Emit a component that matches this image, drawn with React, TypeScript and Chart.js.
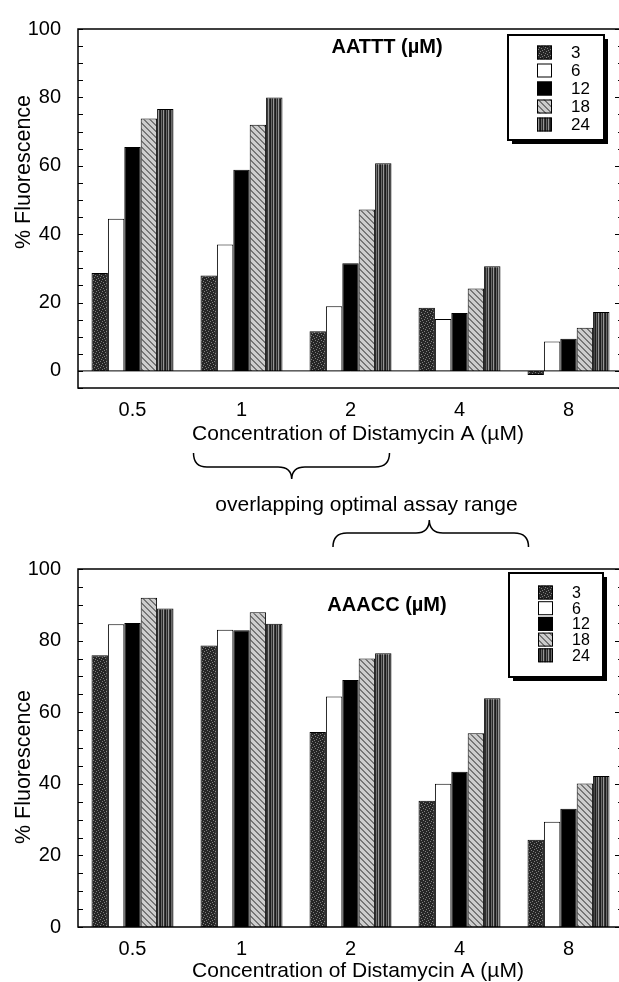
import React, { useEffect, useRef } from 'react';
import { Chart, registerables } from 'chart.js';

Chart.register(...registerables);

// ---------------- data ----------------
const categories = ['0.5', '1', '2', '4', '8'];
const seriesLabels = ['3', '6', '12', '18', '24'];

const aatttS3 = [28.6, 27.9, 11.6, 18.5, -1.2];
const aatttS6 = [44.5, 37.0, 18.9, 15.2, 8.6];
const aatttS12 = [65.5, 58.8, 31.5, 16.9, 9.4];
const aatttS18 = [73.8, 72.0, 47.2, 24.1, 12.6];
const aatttS24 = [76.6, 80.0, 60.7, 30.6, 17.2];

const aaaccS3 = [75.9, 78.6, 54.5, 35.3, 24.4];
const aaaccS6 = [84.6, 83.0, 64.4, 40.0, 29.4];
const aaaccS12 = [84.9, 82.9, 69.0, 43.4, 33.0];
const aaaccS18 = [92.0, 87.9, 75.0, 54.1, 40.1];
const aaaccS24 = [89.0, 84.7, 76.5, 63.9, 42.2];

const yMajorTicks = [0, 20, 40, 60, 80, 100];

const FONT = '"Liberation Sans", Arial, Helvetica, sans-serif';

// ---------------- fill patterns ----------------
function makePattern(kind: string): CanvasPattern | string {
  const c = document.createElement('canvas');
  const g = c.getContext('2d') as CanvasRenderingContext2D;
  if (kind === 'speckle') {
    c.width = 6; c.height = 6;
    g.fillStyle = '#262626'; g.fillRect(0, 0, 6, 6);
    g.fillStyle = '#7e7e7e';
    [[1, 0], [4, 1], [0, 3], [3, 4], [5, 5], [2, 2]].forEach(([x, y]) => g.fillRect(x, y, 1, 1));
  } else if (kind === 'hatch') {
    c.width = 6; c.height = 6;
    g.fillStyle = '#cdcdcd'; g.fillRect(0, 0, 6, 6);
    g.fillStyle = '#767676';
    for (let i = 0; i < 6; i++) { g.fillRect(i, i, 1, 1); g.fillRect((i + 1) % 6, i, 1, 1); }
  } else if (kind === 'stripe') {
    c.width = 5; c.height = 1;
    const cols = ['#1c1c1c', '#6a6a6a', '#2a2a2a', '#969696', '#363636'];
    cols.forEach((col, i) => { g.fillStyle = col; g.fillRect(i, 0, 1, 1); });
  }
  return g.createPattern(c, 'repeat') as CanvasPattern;
}

// ---------------- decoration plugin ----------------
const decorPlugin = {
  id: 'decor',
  afterDraw(chart: any, _args: any, opts: any) {
    const { ctx, chartArea: a } = chart;
    const y = chart.scales.y;
    ctx.save();
    ctx.strokeStyle = '#000';
    ctx.fillStyle = '#000';

    // zero line
    if (opts.zeroLine) {
      const z = y.getPixelForValue(0);
      ctx.lineWidth = 1;
      ctx.beginPath(); ctx.moveTo(a.left, z); ctx.lineTo(a.right, z); ctx.stroke();
    }

    // inward tick marks every 5 units
    ctx.lineWidth = 1;
    for (let v = Math.ceil(y.min / 5) * 5; v <= y.max; v += 5) {
      const py = Math.round(y.getPixelForValue(v)) + 0.5;
      const major = v % 20 === 0;
      ctx.beginPath();
      ctx.moveTo(a.left, py); ctx.lineTo(a.left + 5, py);
      ctx.moveTo(a.right - (major ? 8 : 5), py); ctx.lineTo(a.right, py);
      ctx.stroke();
    }

    // frame
    ctx.lineWidth = 1.5;
    ctx.strokeRect(a.left, a.top, a.right - a.left, a.bottom - a.top);

    // y title
    ctx.save();
    ctx.font = `21.5px ${FONT}`;
    ctx.textAlign = 'center';
    ctx.textBaseline = 'middle';
    ctx.translate(opts.yTitle.x, opts.yTitle.y);
    ctx.rotate(-Math.PI / 2);
    ctx.fillText(opts.yTitle.text, 0, 0);
    ctx.restore();

    // x title
    ctx.font = `21px ${FONT}`;
    ctx.textAlign = 'center';
    ctx.textBaseline = 'alphabetic';
    ctx.fillText(opts.xTitle.text, opts.xTitle.x, opts.xTitle.y);

    // annotation
    ctx.font = `bold 20px ${FONT}`;
    ctx.fillText(opts.note.text, opts.note.x, opts.note.y);

    // legend
    const L = opts.legend;
    ctx.fillStyle = '#000';
    ctx.fillRect(L.x + 4, L.y + 4, L.w, L.h);
    ctx.fillStyle = '#fff';
    ctx.fillRect(L.x, L.y, L.w, L.h);
    ctx.lineWidth = 2;
    ctx.strokeRect(L.x, L.y, L.w, L.h);
    ctx.font = `${L.fs}px ${FONT}`;
    ctx.textAlign = 'left';
    ctx.textBaseline = 'middle';
    chart.data.datasets.forEach((ds: any, i: number) => {
      const cy = L.y + L.row0 + i * L.step;
      ctx.fillStyle = ds.backgroundColor;
      ctx.fillRect(L.sx, cy - L.sh / 2, L.sw, L.sh);
      ctx.lineWidth = 1;
      ctx.strokeStyle = '#000';
      ctx.strokeRect(L.sx + 0.5, cy - L.sh / 2 + 0.5, L.sw - 1, L.sh - 1);
      ctx.fillStyle = '#000';
      ctx.fillText(ds.label, L.tx, cy + 1);
    });
    ctx.restore();
  },
};

function buildChart(canvas: HTMLCanvasElement, series: number[][], cfg: any) {
  const fills = [makePattern('speckle'), '#ffffff', '#000000', makePattern('hatch'), makePattern('stripe')];
  return new Chart(canvas, {
    type: 'bar',
    data: {
      labels: categories,
      datasets: series.map((vals, i) => ({
        label: seriesLabels[i],
        data: vals,
        backgroundColor: fills[i] as any,
        borderColor: '#000',
        borderWidth: 1,
        categoryPercentage: 0.752,
        barPercentage: 1.0,
      })),
    },
    options: {
      animation: false,
      responsive: false,
      maintainAspectRatio: false,
      devicePixelRatio: 1,
      layout: { padding: { top: cfg.padTop, right: 17, left: 0, bottom: 0 } },
      plugins: {
        legend: { display: false },
        tooltip: { enabled: false },
        decor: cfg.decor,
      } as any,
      scales: {
        x: {
          type: 'category',
          offset: true,
          grid: { display: false, drawTicks: false },
          border: { display: false },
          ticks: { font: { family: FONT, size: 20 }, color: '#000', padding: 10, maxRotation: 0, autoSkip: false },
          afterFit: (s: any) => { s.height = cfg.xHeight; },
        },
        y: {
          min: cfg.yMin,
          max: 100,
          grid: { display: false, drawTicks: false },
          border: { display: false },
          afterBuildTicks: (s: any) => { s.ticks = yMajorTicks.map((v) => ({ value: v })); },
          ticks: { font: { family: FONT, size: 20 }, color: '#000', padding: 17 },
          afterFit: (s: any) => { s.width = 78; },
        },
      },
    },
    plugins: [decorPlugin],
  } as any);
}

export default function App() {
  const topRef = useRef<HTMLCanvasElement>(null);
  const botRef = useRef<HTMLCanvasElement>(null);

  useEffect(() => {
    const top = buildChart(topRef.current!, [aatttS3, aatttS6, aatttS12, aatttS18, aatttS24], {
      padTop: 24,
      xHeight: 82,
      yMin: -5,
      decor: {
        zeroLine: true,
        yTitle: { text: '% Fluorescence', x: 24, y: 172 },
        xTitle: { text: 'Concentration of Distamycin A (µM)', x: 358, y: 440 },
        note: { text: 'AATTT (µM)', x: 387, y: 53 },
        legend: { x: 508, y: 35, w: 96, h: 105, row0: 17.5, step: 18, sx: 537, sw: 15, sh: 14, tx: 571, fs: 17 },
      },
    });
    const bot = buildChart(botRef.current!, [aaaccS3, aaaccS6, aaaccS12, aaaccS18, aaaccS24], {
      padTop: 24,
      xHeight: 55,
      yMin: 0,
      decor: {
        zeroLine: false,
        yTitle: { text: '% Fluorescence', x: 24, y: 227 },
        xTitle: { text: 'Concentration of Distamycin A (µM)', x: 358, y: 437 },
        note: { text: 'AAACC (µM)', x: 387, y: 71 },
        legend: { x: 509, y: 33, w: 94, h: 104, row0: 19.5, step: 15.7, sx: 538, sw: 15, sh: 14, tx: 572, fs: 16 },
      },
    });
    return () => { top.destroy(); bot.destroy(); };
  }, []);

  return (
    <div style={{ position: 'fixed', left: 0, top: 0, width: 619, height: 982, overflow: 'hidden', background: '#fff' }}>
      <canvas ref={topRef} width={640} height={470} style={{ position: 'absolute', left: 0, top: 0 }} />
      <canvas ref={botRef} width={640} height={442} style={{ position: 'absolute', left: 0, top: 540 }} />
      <svg width={619} height={982} style={{ position: 'absolute', left: 0, top: 0, pointerEvents: 'none' }}>
        <path d="M193.5,453 Q193.5,467 207,467 L278,467 Q291.5,467 291.7,479 Q292,467 305,467 L375,467 Q389.5,467 389.5,453"
          fill="none" stroke="#000" strokeWidth={1.5} />
        <path d="M333,547 Q333,533 347,533 L416,533 Q429,533 429.3,520 Q429.6,533 443,533 L514,533 Q528.5,533 528.5,547"
          fill="none" stroke="#000" strokeWidth={1.5} />
        <text x={366.5} y={511} textAnchor="middle" fontFamily={FONT} fontSize={21} fill="#000">
          overlapping optimal assay range
        </text>
      </svg>
    </div>
  );
}
